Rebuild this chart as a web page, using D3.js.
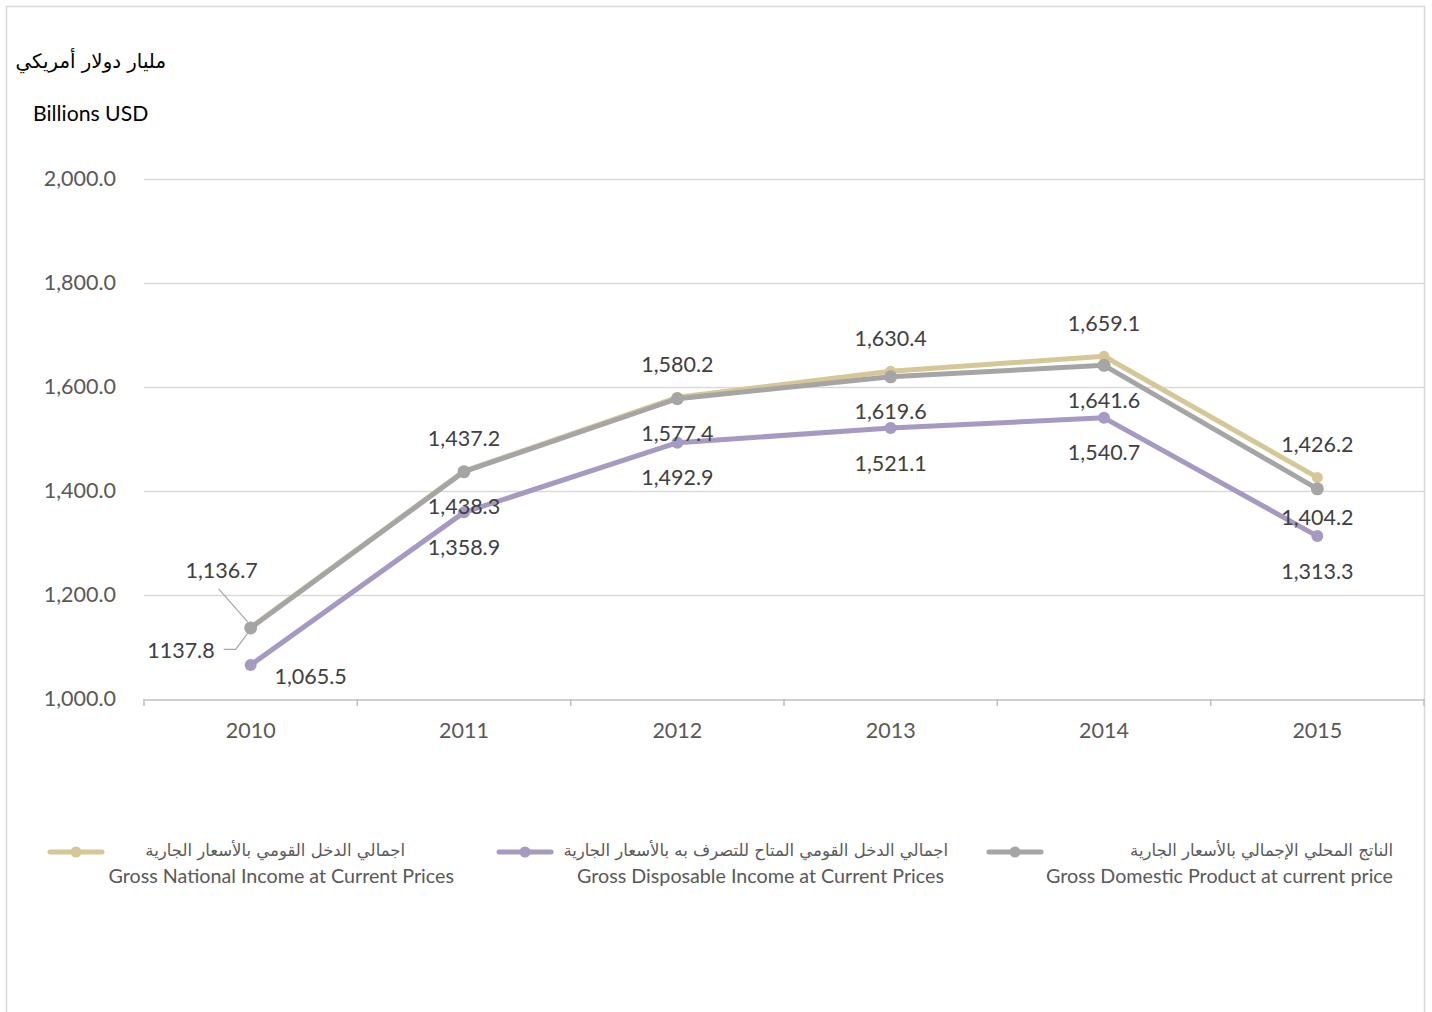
<!DOCTYPE html>
<html><head><meta charset="utf-8">
<script src="https://cdn.jsdelivr.net/npm/d3@7/dist/d3.min.js"></script>
<style>body{margin:0;background:#fff}svg{display:block}</style>
</head><body>
<svg id="c" width="1432" height="1012"></svg>
<script>
const years = ["2010","2011","2012","2013","2014","2015"];
const gni = [1137.8, 1438.3, 1580.2, 1630.4, 1659.1, 1426.2];
const gdi = [1065.5, 1358.9, 1492.9, 1521.1, 1540.7, 1313.3];
const gdp = [1136.7, 1437.2, 1577.4, 1619.6, 1641.6, 1404.2];
const yTicks = [1000, 1200, 1400, 1600, 1800, 2000];
const seriesNamesAr = ["اجمالي الدخل القومي بالأسعار الجارية","اجمالي الدخل القومي المتاح للتصرف به بالأسعار الجارية","الناتج المحلي الإجمالي بالأسعار الجارية"];
const seriesNamesEn = ["Gross National Income at Current Prices","Gross Disposable Income at Current Prices","Gross Domestic Product at current price"];
const unitAr = "مليار دولار أمريكي";
const unitEn = "Billions USD";

const colors = ["#d6c796","#a699c2","#a5a5a5"];
const placeGNI = ["leaderLeft","below","above","above","above","above"];
const placeGDI = ["belowRight","below","below","below","below","below"];
const placeGDP = ["leaderAbove","above","below","below","below","belowNear"];

const svg = d3.select("#c");
const latin = "Lato, 'Open Sans', sans-serif";
const arab = "'DejaVu Sans', sans-serif";
const numSize = 21.5;

svg.append("rect").attr("x",6.5).attr("y",6.5).attr("width",1418).attr("height",1010)
  .attr("fill","none").attr("stroke","#d9d9d9").attr("stroke-width",1.5);

const x = d3.scaleBand().domain(years).range([144,1424]);
const y = d3.scaleLinear().domain([1000,2000]).range([699,179]);
const cx = d => x(d) + x.bandwidth()/2;

svg.append("g").selectAll("line").data(yTicks.filter(t=>t>1000)).join("line")
  .attr("x1",144).attr("x2",1424).attr("y1",d=>y(d)+0.5).attr("y2",d=>y(d)+0.5)
  .attr("stroke","#d9d9d9").attr("stroke-width",1.5);

const yAxis = d3.axisLeft(y).tickValues(yTicks).tickSize(0).tickPadding(28)
  .tickFormat(d=>d3.format(",.1f")(d));
const gy = svg.append("g").attr("transform","translate(144,0)").call(yAxis);
gy.select(".domain").remove();
gy.selectAll("text").attr("font-family",latin).attr("font-size",numSize).attr("fill","#595959");

const xAxis = d3.axisBottom(x).tickSize(0).tickPadding(23);
const gx = svg.append("g").attr("transform","translate(0,699.5)").call(xAxis);
gx.select(".domain").attr("stroke","#bfbfbf").attr("stroke-width",1.5);
gx.selectAll("text").attr("font-family",latin).attr("font-size",numSize).attr("fill","#595959");
svg.append("g").selectAll("line").data(d3.range(years.length+1)).join("line")
  .attr("x1",i=>144+i*x.bandwidth()).attr("x2",i=>144+i*x.bandwidth())
  .attr("y1",699).attr("y2",706).attr("stroke","#bfbfbf").attr("stroke-width",1.5);

const series = [
  {v:gni, c:colors[0], p:placeGNI, r:5.5},
  {v:gdi, c:colors[1], p:placeGDI, r:6},
  {v:gdp, c:colors[2], p:placeGDP, r:6.5}
];
const line = d3.line().x((d,i)=>cx(years[i])).y(d=>y(d));
series.forEach(s=>{
  svg.append("path").datum(s.v).attr("d",line).attr("fill","none")
    .attr("stroke",s.c).attr("stroke-width",5).attr("stroke-linejoin","round");
  svg.append("g").selectAll("circle").data(s.v).join("circle")
    .attr("cx",(d,i)=>cx(years[i])).attr("cy",d=>y(d)).attr("r",s.r).attr("fill",s.c);
});

const fmt = d3.format(",.1f");
const lab = svg.append("g").attr("font-family",latin).attr("font-size",numSize).attr("fill","#404040");
series.forEach(s=>{
  s.v.forEach((v,i)=>{
    const px = cx(years[i]), py = y(v);
    const pl = s.p[i];
    const t = (xx,yy,anchor,txt)=>lab.append("text").attr("x",xx).attr("y",yy).attr("dy","0.35em").attr("text-anchor",anchor).text(txt);
    if (pl==="above") t(px,py-33,"middle",fmt(v));
    else if (pl==="below") t(px,py+35,"middle",fmt(v));
    else if (pl==="belowNear") t(px,py+29,"middle",fmt(v));
    else if (pl==="belowRight") t(px+60,py+12,"middle",fmt(v));
    else if (pl==="leaderAbove") {
      t(px-29,py-57,"middle",fmt(v));
      svg.append("line").attr("x1",px-32).attr("y1",py-39).attr("x2",px-3).attr("y2",py-6)
        .attr("stroke","#a6a6a6").attr("stroke-width",1.2);
    } else if (pl==="leaderLeft") {
      t(px-36,py+23,"end",d3.format(".1f")(v));
      svg.append("path").attr("d",`M${px-27},${py+22}H${px-15}L${px-3},${py+6}`)
        .attr("fill","none").attr("stroke","#a6a6a6").attr("stroke-width",1.2);
    }
  });
});

svg.append("text").attr("x",166).attr("y",61).attr("dy","0.35em").attr("text-anchor","start")
  .attr("direction","rtl").attr("font-family",arab).attr("font-size",19.8).attr("fill","#000").text(unitAr);
svg.append("text").attr("x",33).attr("y",114).attr("dy","0.35em")
  .attr("font-family",latin).attr("font-size",21.2).attr("fill","#000").text(unitEn);

const legLayout = [
  {lx:48, arX:405, enX:454},
  {lx:497, arX:948, enX:944},
  {lx:987, arX:1393, enX:1393}
];
legLayout.forEach((L,k)=>{
  const g = svg.append("g");
  g.append("line").attr("x1",L.lx+2).attr("x2",L.lx+54).attr("y1",852).attr("y2",852)
    .attr("stroke",colors[k]).attr("stroke-width",5).attr("stroke-linecap","round");
  g.append("circle").attr("cx",L.lx+28).attr("cy",852).attr("r",5.5).attr("fill",colors[k]);
  g.append("text").attr("x",L.arX).attr("y",850).attr("dy","0.35em").attr("text-anchor","start")
    .attr("direction","rtl").attr("font-family",arab).attr("font-size",16.5).attr("fill","#595959").text(seriesNamesAr[k]);
  g.append("text").attr("x",L.enX).attr("y",876).attr("dy","0.35em").attr("text-anchor","end")
    .attr("font-family",latin).attr("font-size",19.7).attr("fill","#595959").text(seriesNamesEn[k]);
});
</script>
</body></html>
